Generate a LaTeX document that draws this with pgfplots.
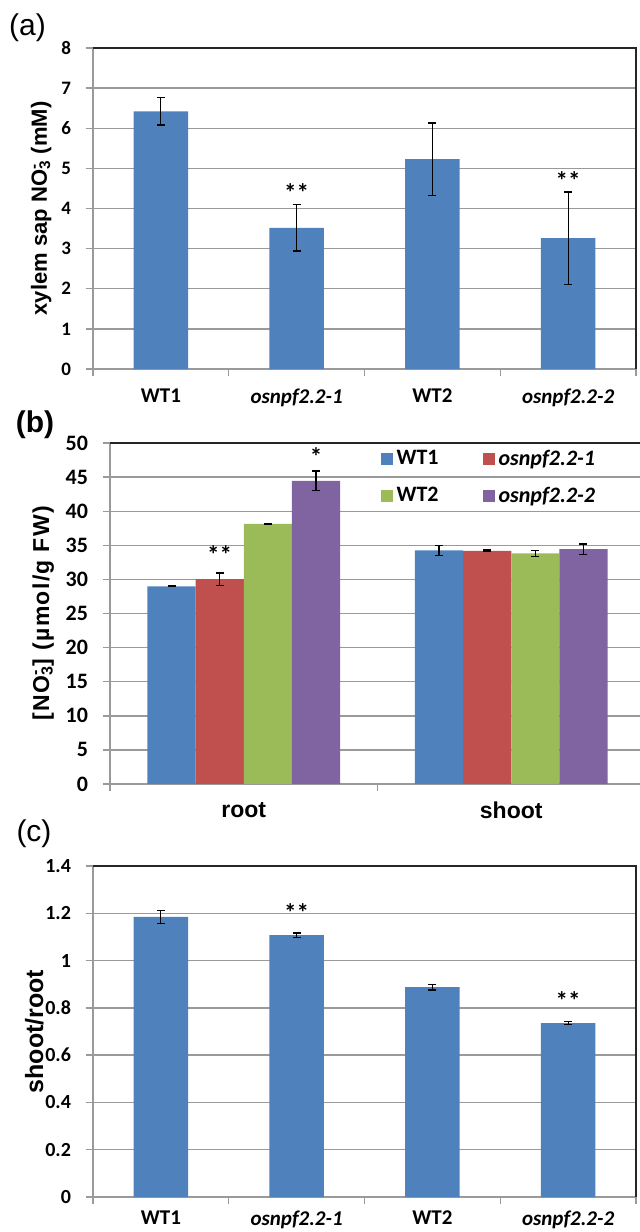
\documentclass[border=0pt]{standalone}
\usepackage{fontspec}
\setmainfont{Liberation Sans}
\newfontfamily\calibri{Carlito}
\usepackage{pgfplots}
\pgfplotsset{compat=1.18}
\definecolor{cblue}{HTML}{4F81BD}
\definecolor{cred}{HTML}{C0504D}
\definecolor{cgreen}{HTML}{9BBB59}
\definecolor{cpurple}{HTML}{8064A2}
\definecolor{gridc}{HTML}{9A9A9A}
\tikzset{starlbl/.style={font=\calibri\bfseries\fontsize{12.5}{14}\selectfont, anchor=center, inner sep=0pt}}
\pgfplotsset{
  panel/.style={
    scale only axis, anchor=north west,
    axis x line*=bottom, axis y line*=left,
    axis line style={gridc, line width=0.7pt},
    ymajorgrids, major grid style={gridc, line width=0.7pt},
    tick align=outside, major tick length=3.5pt,
    ytick style={gridc, line width=0.7pt},
    xtick style={gridc, line width=0.7pt},
    x tick label as interval,
    /pgf/number format/assume math mode=true,
    ymin=0, clip=false,
  },
  bars/.style={ybar, bar shift=0pt, fill=#1, draw=none,
    error bars/y dir=both, error bars/y explicit,
    error bars/error bar style={draw=black, line width=0.6pt},
    error bars/error mark options={rotate=90, draw=black, mark size=2pt, line width=0.6pt}},
}
\begin{document}
\begin{tikzpicture}
\useasboundingbox (0,0) rectangle (320pt,-616pt);
\clip (0,0) rectangle (320pt,-616pt);
\node[font=\fontsize{15}{18}\selectfont, inner sep=0pt] at (13.75pt,-14pt) {(a)};
\node[font=\bfseries\fontsize{15}{18}\selectfont, inner sep=0pt] at (17.5pt,-212.5pt) {(b)};
\node[font=\fontsize{15}{18}\selectfont, inner sep=0pt] at (17pt,-417pt) {(c)};

% ---------------- (a)
\begin{axis}[panel, at={(46.5pt,-24pt)}, width=271.5pt, height=160.5pt,
  xmin=-0.5, xmax=3.5, ymax=8, ytick={0,1,...,8},
  xtick={-0.5,0.5,1.5,2.5,3.5},
  xticklabels={WT1,\textit{osnpf2.2-1},WT2,\textit{osnpf2.2-2}},
  xticklabel style={font=\calibri\bfseries\fontsize{10.5}{12}\selectfont, yshift=-3pt},
  yticklabel style={font=\calibri\bfseries\fontsize{9.5}{11}\selectfont, xshift=-4pt},
  ylabel={xylem sap NO\rlap{\textsuperscript{-}}\textsubscript{3} (mM)},
  ylabel style={font=\bfseries\fontsize{11}{13}\selectfont, at={(axis description cs:-0.085,0.5)}, anchor=base},
]
\addplot[bars=cblue, bar width=0.4] coordinates {
  (0,6.42) +- (0,0.34)
  (1,3.52) +- (0,0.58)
  (2,5.23) +- (0,0.90)
  (3,3.26) +- (0,1.15)
};
\node[starlbl] at (axis cs:1,4.40) {**};
\node[starlbl] at (axis cs:3,4.69) {**};
\draw[black!85, line width=0.8pt] (rel axis cs:0,1) -- (rel axis cs:1,1) -- (rel axis cs:1,0);
\end{axis}

% ---------------- (b)
\begin{axis}[panel, at={(55pt,-221.5pt)}, width=267.5pt, height=170.5pt,
  xmin=-0.5, xmax=1.5, ymax=50, ytick={0,5,...,50},
  xtick={-0.5,0.5,1.5},
  xticklabels={root,shoot},
  xticklabel style={font=\bfseries\fontsize{11.5}{13}\selectfont, yshift=-2pt},
  yticklabel style={font=\calibri\bfseries\fontsize{11}{13}\selectfont, xshift=-4pt},
  ylabel={[NO\rlap{\textsuperscript{-}}\textsubscript{3}] (µmol/g FW)},
  ylabel style={font=\bfseries\fontsize{11.5}{13}\selectfont\addfontfeatures{LetterSpace=6}, at={(axis description cs:-0.114,0.5)}, anchor=base},
  legend columns=2,
  legend style={at={(rel axis cs:0.505,0.993)}, anchor=north west, draw=none, fill=none,
    font=\calibri\bfseries\fontsize{11}{13}\selectfont,
    /tikz/every even column/.append style={column sep=20pt}, row sep=5.5pt, inner sep=0pt},
  legend cell align=left,
]
\addplot[bars=cblue, bar width=0.18, legend image code/.code={\fill[cblue] (0pt,-3pt) rectangle (6pt,3pt);}] coordinates {
  (-0.27,28.98) +- (0,0.06)
  (0.73,34.25) +- (0,0.70)
};
\addplot[bars=cred, bar width=0.18, legend image code/.code={\fill[cred] (0pt,-3pt) rectangle (6pt,3pt);}] coordinates {
  (-0.09,30.05) +- (0,0.90)
  (0.91,34.20) +- (0,0.10)
};
\addplot[bars=cgreen, bar width=0.18, legend image code/.code={\fill[cgreen] (0pt,-3pt) rectangle (6pt,3pt);}] coordinates {
  (0.09,38.15) +- (0,0.10)
  (1.09,33.80) +- (0,0.45)
};
\addplot[bars=cpurple, bar width=0.18, legend image code/.code={\fill[cpurple] (0pt,-3pt) rectangle (6pt,3pt);}] coordinates {
  (0.27,44.45) +- (0,1.45)
  (1.27,34.45) +- (0,0.75)
};
\legend{WT1,\textit{osnpf2.2-1},WT2,\textit{osnpf2.2-2}}
\node[starlbl] at (axis cs:-0.09,33.6) {**};
\node[starlbl] at (axis cs:0.27,48.0) {*};
\draw[black!85, line width=0.8pt] (rel axis cs:0,1) -- (rel axis cs:1,1) -- (rel axis cs:1,0);
\end{axis}

% ---------------- (c)
\begin{axis}[panel, at={(46.5pt,-433pt)}, width=271.5pt, height=165.5pt,
  xmin=-0.5, xmax=3.5, ymax=1.4, ytick={0,0.2,0.4,0.6,0.8,1,1.2,1.4},
  yticklabels={0,0.2,0.4,0.6,0.8,1,1.2,1.4},
  xtick={-0.5,0.5,1.5,2.5,3.5},
  xticklabels={WT1,\textit{osnpf2.2-1},WT2,\textit{osnpf2.2-2}},
  xticklabel style={font=\calibri\bfseries\fontsize{10.5}{12}\selectfont},
  yticklabel style={font=\calibri\bfseries\fontsize{10}{12}\selectfont, xshift=-4pt},
  ylabel={shoot/root},
  ylabel style={font=\bfseries\fontsize{12.5}{14}\selectfont, at={(axis description cs:-0.092,0.5)}, anchor=base},
]
\addplot[bars=cblue, bar width=0.4] coordinates {
  (0,1.185) +- (0,0.027)
  (1,1.108) +- (0,0.009)
  (2,0.888) +- (0,0.012)
  (3,0.735) +- (0,0.006)
};
\node[starlbl] at (axis cs:1,1.205) {**};
\node[starlbl] at (axis cs:3,0.83) {**};
\draw[black!85, line width=0.8pt] (rel axis cs:0,1) -- (rel axis cs:1,1) -- (rel axis cs:1,0);
\end{axis}
\end{tikzpicture}
\end{document}
